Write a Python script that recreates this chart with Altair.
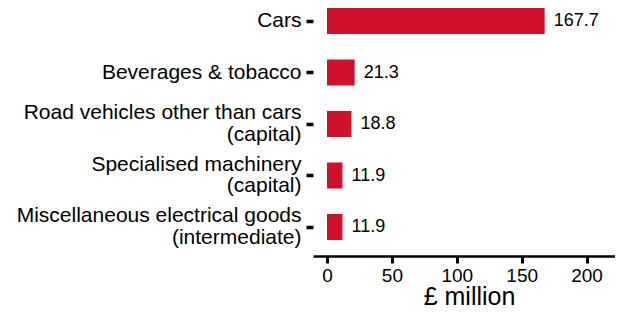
import altair as alt
import pandas as pd

categories = [
    "Cars",
    "Beverages & tobacco",
    "Road vehicles other than cars\n(capital)",
    "Specialised machinery\n(capital)",
    "Miscellaneous electrical goods\n(intermediate)",
]
values = [167.7, 21.3, 18.8, 11.9, 11.9]
x_ticks = [0, 50, 100, 150, 200]

df = pd.DataFrame({"category": categories, "value": values})

FONT = "Liberation Sans"
RED = "#d0112b"

y_enc = alt.Y(
    "category:N",
    sort=categories,
    scale=alt.Scale(paddingInner=0.495, paddingOuter=0.155, align=0),
    axis=alt.Axis(
        title=None,
        domain=False,
        ticks=True,
        tickColor="black",
        tickWidth=3.5,
        tickSize=7,
        labelFontSize=21,
        labelLineHeight=21.5,
        labelColor="black",
        labelPadding=5,
        labelFont=FONT,
        labelExpr="split(datum.label, '\\n')",
        labelOffset={
            "condition": {"test": "indexof(datum.label, '\\n') >= 0", "value": -10.75},
            "value": 0,
        },
        labelLimit=400,
    ),
)

x_enc = alt.X(
    "value:Q",
    scale=alt.Scale(domain=[-10.8, 221.9], nice=False, zero=False),
    axis=alt.Axis(
        title="£ million",
        values=x_ticks,
        grid=False,
        domainColor="black",
        domainWidth=2.7,
        tickColor="black",
        tickWidth=3,
        tickSize=7,
        labelFontSize=19,
        labelColor="black",
        labelPadding=3,
        labelFont=FONT,
        titleFont=FONT,
        titleFontSize=25,
        titleFontWeight="normal",
        titleColor="black",
        titleBaseline="alphabetic",
        titleAlign="center",
        titleX=156,
        titleY=48,
    ),
)

bars = alt.Chart(df).mark_bar(color=RED).encode(x=x_enc, y=y_enc)
labels = alt.Chart(df).mark_text(
    align="left", baseline="middle", dx=9, fontSize=18, font=FONT, color="black"
).encode(
    x=alt.X("value:Q"),
    y=alt.Y("category:N", sort=categories),
    text=alt.Text("value:Q", format=".1f"),
)

chart = (
    alt.layer(bars, labels)
    .properties(
        width=302,
        height=248,
        autosize=alt.AutoSizeParams(type="none"),
        padding={"left": 305, "top": 0, "right": 0, "bottom": 53},
    )
    .configure_view(stroke=None)
)

chart.save("out.html", embed_options={"renderer": "svg", "actions": False})
